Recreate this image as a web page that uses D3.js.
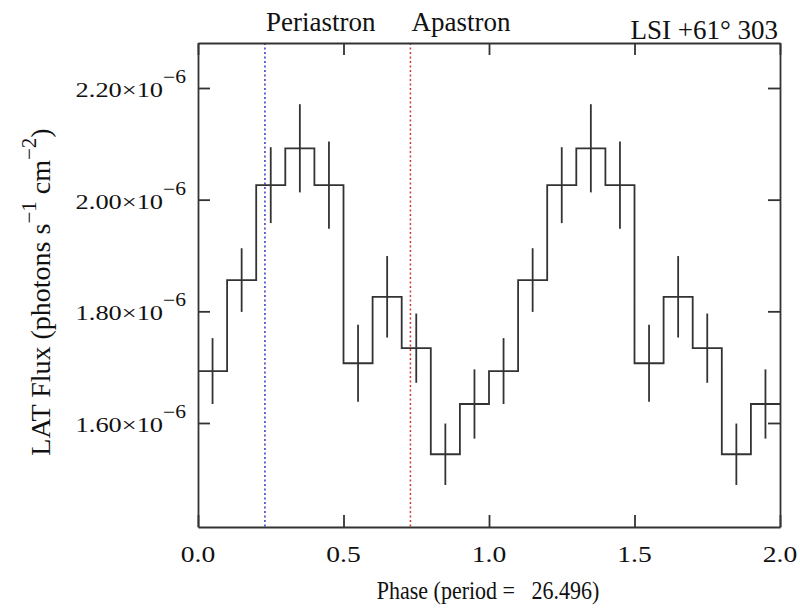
<!DOCTYPE html>
<meta charset="utf-8" />
<style>
  body { margin: 0; background: #fff; }
  text { font-family: "Liberation Serif", "Times New Roman", serif; fill: #111; }
</style>
<body>
  <div id="chart"></div>
  <script src="https://cdn.jsdelivr.net/npm/d3@7"></script>
  <script>
    // phase bins (start of each 0.1 bin), flux and error, two cycles
    let binStart = [0.0, 0.1, 0.2, 0.3, 0.4, 0.5, 0.6, 0.7, 0.8, 0.9,
                    1.0, 1.1, 1.2, 1.3, 1.4, 1.5, 1.6, 1.7, 1.8, 1.9];
    let flux = [1.693e-6, 1.856e-6, 2.026e-6, 2.092e-6, 2.026e-6, 1.707e-6, 1.826e-6, 1.734e-6, 1.544e-6, 1.634e-6,
                1.693e-6, 1.856e-6, 2.026e-6, 2.092e-6, 2.026e-6, 1.707e-6, 1.826e-6, 1.734e-6, 1.544e-6, 1.634e-6];
    let fluxErr = [0.059e-6, 0.057e-6, 0.068e-6, 0.079e-6, 0.078e-6, 0.069e-6, 0.073e-6, 0.062e-6, 0.055e-6, 0.062e-6,
                   0.059e-6, 0.057e-6, 0.068e-6, 0.079e-6, 0.078e-6, 0.069e-6, 0.073e-6, 0.062e-6, 0.055e-6, 0.062e-6];
    let binWidth = 0.1;
    let xTicks = [0.0, 0.5, 1.0, 1.5, 2.0];
    let yTicks = [1.6e-6, 1.8e-6, 2.0e-6, 2.2e-6];
    let yTickLabels = ["1.60", "1.80", "2.00", "2.20"];
    let markers = [
      { phase: 0.23, label: "Periastron", color: "#3838c0" },
      { phase: 0.73, label: "Apastron", color: "#d03838" },
    ];

    var width = 800;
    var height = 610;
    var mLeft = 198, mRight = 780, mTop = 43, mBottom = 527;

    let x = d3.scaleLinear().domain([0, 2]).range([mLeft, mRight]);
    let y = d3.scaleLinear().domain([1.4137e-6, 2.2806e-6]).range([mBottom, mTop]);

    let svg = d3.select("#chart").append("svg").attr("width", width).attr("height", height);

    // marker lines
    markers.forEach((m) => {
      svg.append("line")
        .attr("x1", x(m.phase)).attr("x2", x(m.phase))
        .attr("y1", mTop).attr("y2", mBottom)
        .attr("stroke", m.color).attr("stroke-width", 1.5)
        .attr("stroke-dasharray", "2,2.5");
      svg.append("text")
        .attr("x", x(m.phase) + 1).attr("y", 31)
        .attr("font-size", "27px")
        .text(m.label);
    });

    // step histogram
    let pts = binStart.map((b, i) => [b, flux[i]]);
    pts.push([binStart[binStart.length - 1] + binWidth, flux[flux.length - 1]]);
    let line = d3.line().x((d) => x(d[0])).y((d) => y(d[1])).curve(d3.curveStepAfter);
    svg.append("path")
      .attr("d", line(pts))
      .attr("fill", "none")
      .attr("stroke", "#333")
      .attr("stroke-width", 1.8);

    // error bars
    svg.selectAll(".err")
      .data(binStart)
      .enter()
      .append("line")
      .attr("class", "err")
      .attr("x1", (d) => x(d + binWidth / 2))
      .attr("x2", (d) => x(d + binWidth / 2))
      .attr("y1", (d, i) => y(flux[i] + fluxErr[i]))
      .attr("y2", (d, i) => y(flux[i] - fluxErr[i]))
      .attr("stroke", "#333")
      .attr("stroke-width", 1.8);

    // frame and inward ticks
    let tick = 12;
    let axes = [
      d3.axisBottom(x).tickValues(xTicks).tickSizeInner(-tick).tickSizeOuter(0).tickFormat(""),
      d3.axisTop(x).tickValues(xTicks).tickSizeInner(-tick).tickSizeOuter(0).tickFormat(""),
      d3.axisLeft(y).tickValues(yTicks).tickSizeInner(-tick).tickSizeOuter(0).tickFormat(""),
      d3.axisRight(y).tickValues(yTicks).tickSizeInner(-tick).tickSizeOuter(0).tickFormat(""),
    ];
    let offsets = ["translate(0," + mBottom + ")", "translate(0," + mTop + ")", "translate(" + mLeft + ",0)", "translate(" + mRight + ",0)"];
    axes.forEach((a, i) => {
      let g = svg.append("g").attr("transform", offsets[i]).call(a);
      g.selectAll("line").attr("stroke", "#333").attr("stroke-width", 1.8);
      g.select(".domain").attr("stroke", "#333").attr("stroke-width", 1.8);
    });

    // x tick labels (slightly wide lettering, like the original)
    svg.selectAll(".xl")
      .data(xTicks)
      .enter()
      .append("text")
      .attr("transform", (d) => "translate(" + x(d) + ",562) scale(1.2,1)")
      .attr("text-anchor", "middle")
      .attr("font-size", "23px")
      .text((d) => d.toFixed(1));

    // y tick labels
    yTicks.forEach((v, i) => {
      let t = svg.append("text")
        .attr("transform", "translate(186," + (y(v) + 9) + ") scale(1.2,1)")
        .attr("text-anchor", "end")
        .attr("font-size", "22px");
      t.append("tspan").text(yTickLabels[i] + "\u00d710");
      t.append("tspan").attr("dy", -14).attr("font-size", "18px").text("\u22126");
    });

    // axis titles
    svg.append("text")
      .attr("transform", "translate(488,599) scale(0.88,1)")
      .attr("text-anchor", "middle")
      .attr("font-size", "25px")
      .attr("xml:space", "preserve")
      .text("Phase (period =   26.496)");

    let yt = svg.append("text")
      .attr("transform", "translate(50,292) rotate(-90)")
      .attr("text-anchor", "middle")
      .attr("font-size", "28px");
    yt.append("tspan").text("LAT Flux (photons s");
    yt.append("tspan").attr("dy", -14).attr("font-size", "21px").text("\u22121");
    yt.append("tspan").attr("dy", 14).text(" cm");
    yt.append("tspan").attr("dy", -14).attr("font-size", "21px").text("\u22122");
    yt.append("tspan").attr("dy", 14).text(")");

    svg.append("text")
      .attr("x", 778).attr("y", 39)
      .attr("text-anchor", "end")
      .attr("font-size", "27px")
      .text("LSI +61\u00b0 303");
  </script>
</body>
